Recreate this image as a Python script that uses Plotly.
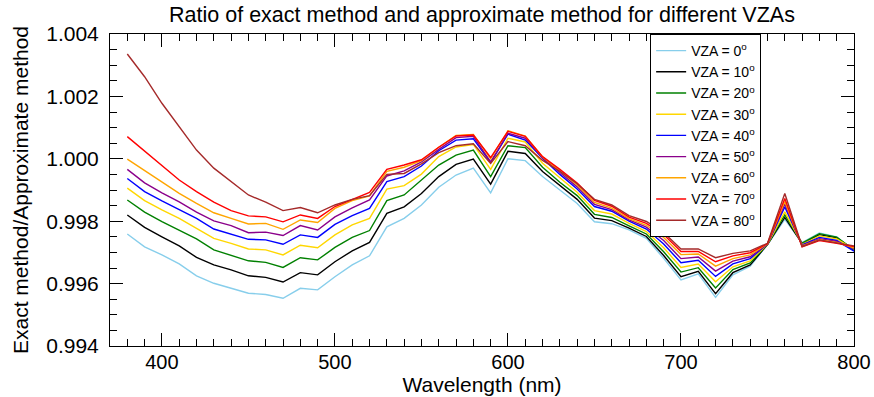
import plotly.graph_objects as go

wavelength = [380, 390, 400, 410, 420, 430, 440, 450, 460, 470, 480, 490, 500, 510, 520,
              530, 540, 550, 560, 570, 580, 590, 600, 610, 620, 630, 640, 650, 660, 670,
              680, 690, 700, 710, 720, 730, 740, 750, 760, 770, 780, 790, 800]

vza_labels = ["VZA = 0<sup>o</sup>", "VZA = 10<sup>o</sup>", "VZA = 20<sup>o</sup>",
              "VZA = 30<sup>o</sup>", "VZA = 40<sup>o</sup>", "VZA = 50<sup>o</sup>",
              "VZA = 60<sup>o</sup>", "VZA = 70<sup>o</sup>", "VZA = 80<sup>o</sup>"]

vza0 = [0.99759, 0.99718, 0.99692, 0.99663, 0.99625, 0.99601, 0.99585, 0.99569, 0.99565, 0.99553,
        0.99585, 0.99580, 0.99622, 0.99660, 0.99689, 0.99782, 0.99809, 0.99852, 0.99909, 0.99948,
        0.99970, 0.99891, 1.00000, 0.99994, 0.99943, 0.99900, 0.99857, 0.99798, 0.99792, 0.99772,
        0.99745, 0.99681, 0.99612, 0.99631, 0.99556, 0.99628, 0.99656, 0.99725, 0.99806, 0.99731,
        0.99762, 0.99750, 0.99705]
vza10 = [0.99820, 0.99780, 0.99750, 0.99721, 0.99684, 0.99660, 0.99644, 0.99625, 0.99620, 0.99605,
         0.99635, 0.99628, 0.99670, 0.99705, 0.99732, 0.99825, 0.99846, 0.99889, 0.99943, 0.99982,
         0.99999, 0.99919, 1.00024, 1.00017, 0.99959, 0.99913, 0.99870, 0.99810, 0.99802, 0.99778,
         0.99751, 0.99690, 0.99622, 0.99639, 0.99568, 0.99635, 0.99660, 0.99725, 0.99812, 0.99728,
         0.99757, 0.99747, 0.99707]
vza20 = [0.99868, 0.99829, 0.99799, 0.99772, 0.99743, 0.99708, 0.99691, 0.99673, 0.99668, 0.99652,
         0.99683, 0.99676, 0.99716, 0.99748, 0.99770, 0.99866, 0.99884, 0.99932, 0.99980, 1.00012,
         1.00028, 0.99943, 1.00042, 1.00036, 0.99973, 0.99925, 0.99882, 0.99822, 0.99812, 0.99785,
         0.99759, 0.99702, 0.99637, 0.99651, 0.99586, 0.99645, 0.99666, 0.99726, 0.99820, 0.99730,
         0.99760, 0.99749, 0.99708]
vza30 = [0.99906, 0.99866, 0.99836, 0.99809, 0.99777, 0.99745, 0.99729, 0.99711, 0.99708, 0.99692,
         0.99723, 0.99715, 0.99756, 0.99788, 0.99809, 0.99903, 0.99914, 0.99951, 1.00007, 1.00038,
         1.00046, 0.99966, 1.00066, 1.00054, 0.99986, 0.99938, 0.99893, 0.99834, 0.99823, 0.99793,
         0.99767, 0.99715, 0.99652, 0.99663, 0.99606, 0.99654, 0.99673, 0.99726, 0.99830, 0.99726,
         0.99753, 0.99743, 0.99711]
vza40 = [0.99937, 0.99895, 0.99865, 0.99838, 0.99809, 0.99775, 0.99759, 0.99742, 0.99740, 0.99726,
         0.99756, 0.99748, 0.99790, 0.99818, 0.99841, 0.99927, 0.99943, 0.99977, 1.00026, 1.00060,
         1.00064, 0.99988, 1.00079, 1.00060, 1.00002, 0.99950, 0.99903, 0.99847, 0.99832, 0.99800,
         0.99775, 0.99727, 0.99667, 0.99675, 0.99623, 0.99663, 0.99680, 0.99727, 0.99846, 0.99724,
         0.99748, 0.99738, 0.99704]
vza50 = [0.99966, 0.99923, 0.99891, 0.99862, 0.99829, 0.99801, 0.99786, 0.99763, 0.99765, 0.99754,
         0.99786, 0.99772, 0.99814, 0.99843, 0.99868, 0.99945, 0.99961, 0.99990, 1.00030, 1.00068,
         1.00072, 0.99990, 1.00082, 1.00066, 1.00003, 0.99955, 0.99910, 0.99854, 0.99837, 0.99804,
         0.99781, 0.99738, 0.99680, 0.99685, 0.99640, 0.99672, 0.99686, 0.99727, 0.99855, 0.99722,
         0.99744, 0.99735, 0.99712]
vza60 = [0.99999, 0.99962, 0.99925, 0.99889, 0.99857, 0.99827, 0.99809, 0.99791, 0.99793, 0.99774,
         0.99804, 0.99796, 0.99841, 0.99866, 0.99881, 0.99960, 0.99973, 0.99994, 1.00037, 1.00075,
         1.00078, 1.00000, 1.00090, 1.00073, 1.00006, 0.99960, 0.99916, 0.99860, 0.99842, 0.99808,
         0.99787, 0.99748, 0.99693, 0.99695, 0.99656, 0.99680, 0.99692, 0.99728, 0.99863, 0.99721,
         0.99741, 0.99732, 0.99715]
vza70 = [1.00071, 1.00025, 0.99978, 0.99932, 0.99895, 0.99861, 0.99834, 0.99817, 0.99814, 0.99798,
         0.99820, 0.99809, 0.99847, 0.99870, 0.99892, 0.99966, 0.99980, 0.99997, 1.00037, 1.00073,
         1.00076, 1.00004, 1.00088, 1.00072, 1.00007, 0.99966, 0.99922, 0.99867, 0.99848, 0.99813,
         0.99793, 0.99757, 0.99703, 0.99703, 0.99670, 0.99689, 0.99699, 0.99728, 0.99873, 0.99718,
         0.99738, 0.99729, 0.99719]
vza80 = [1.00336, 1.00263, 1.00178, 1.00101, 1.00028, 0.99970, 0.99927, 0.99884, 0.99861, 0.99834,
         0.99844, 0.99827, 0.99852, 0.99870, 0.99882, 0.99950, 0.99953, 0.99984, 1.00020, 1.00042,
         1.00048, 0.99985, 1.00055, 1.00042, 0.99995, 0.99960, 0.99920, 0.99870, 0.99852, 0.99818,
         0.99799, 0.99764, 0.99711, 0.99711, 0.99683, 0.99697, 0.99705, 0.99729, 0.99889, 0.99719,
         0.99740, 0.99731, 0.99721]

series = [vza0, vza10, vza20, vza30, vza40, vza50, vza60, vza70, vza80]
colors = ["#87CEEB", "#000000", "#008000", "#FFD700", "#0000FF",
          "#8B008B", "#FFA500", "#FF0000", "#A52A2A"]

FONT = "Liberation Sans, Arial, Helvetica, sans-serif"

fig = go.Figure()
for name, vals, col in zip(vza_labels, series, colors):
    fig.add_trace(go.Scatter(x=wavelength, y=vals, mode="lines", name=name,
                             line=dict(color=col, width=1.4)))

axis_common = dict(showline=True, linecolor="black", linewidth=1, mirror="allticks",
                   ticks="inside", ticklen=13, tickwidth=1, tickcolor="black",
                   showgrid=False, zeroline=False, automargin=False)

fig.update_xaxes(range=[370, 800], tickvals=[400, 500, 600, 700, 800],
                 tickfont=dict(family=FONT, size=20, color="black"), ticklabelstandoff=-2,
                 minor=dict(dtick=10, tick0=370, ticks="inside", ticklen=7,
                            tickcolor="black", showgrid=False),
                 title=dict(text="Wavelength (nm)", font=dict(family=FONT, size=21, color="black"),
                            standoff=0),
                 **axis_common)
fig.update_yaxes(range=[0.994, 1.004], tickvals=[0.994, 0.996, 0.998, 1.000, 1.002, 1.004],
                 tickformat=".3f", ticklabelstandoff=6,
                 tickfont=dict(family=FONT, size=21, color="black"),
                 minor=dict(dtick=0.0005, tick0=0.994, ticks="inside", ticklen=7,
                            tickcolor="black", showgrid=False),
                 title=dict(text="Exact method/Approximate method",
                            font=dict(family=FONT, size=21, color="black"), standoff=11),
                 **axis_common)

fig.update_layout(
    width=874, height=397,
    margin=dict(l=110, r=20, t=34, b=51),
    paper_bgcolor="white", plot_bgcolor="white",
    title=dict(text="Ratio of exact method and approximate method for different VZAs",
               font=dict(family=FONT, size=21.5, color="black"),
               x=0.5, xref="paper", xanchor="center",
               y=1 - 14 / 397, yref="container", yanchor="middle"),
    legend=dict(x=0.726, y=1.0, xanchor="left", yanchor="top",
                bgcolor="white", bordercolor="black", borderwidth=1,
                font=dict(family=FONT, size=14, color="black"),
                tracegroupgap=0),
    showlegend=True,
)

fig.write_html("out.html", config={"displayModeBar": False},
               post_script="document.body.style.margin='0px';document.body.style.overflow='hidden';")
